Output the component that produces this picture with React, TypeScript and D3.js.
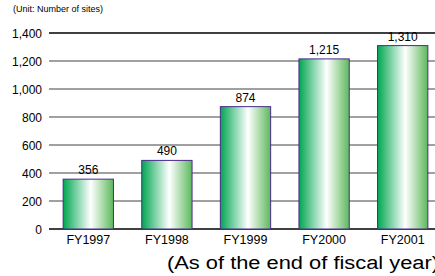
import React from "react";
import * as d3 from "d3";

const years = ["FY1997", "FY1998", "FY1999", "FY2000", "FY2001"];
const sites = [356, 490, 874, 1215, 1310];
const yTicks = [0, 200, 400, 600, 800, 1000, 1200, 1400];

const W = 435;
const H = 276;

export default function App() {
  const x = d3.scaleBand().domain(years).range([49, 442]).paddingInner(0.36).paddingOuter(0.18);
  const y = d3.scaleLinear().domain([0, 1400]).range([229, 33]);
  const fmt = d3.format(",");
  const font = "Arial, 'Liberation Sans', sans-serif";

  return (
    <svg width={W} height={H} style={{ position: "absolute", left: 0, top: 0 }}>
      <defs>
        <linearGradient id="barGrad" x1="0" x2="1" y1="0" y2="0">
          <stop offset="0" stopColor="#00a651" />
          <stop offset="0.55" stopColor="#ffffff" />
          <stop offset="1" stopColor="#5cb85c" />
        </linearGradient>
      </defs>
      <rect width={W} height={H} fill="#fff" />
      <text x={13} y={12} fontSize={9} fontFamily={font} fill="#000">
        (Unit: Number of sites)
      </text>
      {yTicks.map((t) => (
        <g key={t}>
          <line
            x1={49}
            x2={W}
            y1={y(t)}
            y2={y(t)}
            stroke={t === 0 || t === 1400 ? "#000" : "#808080"}
            strokeWidth={1.5}
          />
          <text x={42} y={y(t) + 4.5} fontSize={12} fontFamily={font} textAnchor="end" fill="#000">
            {fmt(t)}
          </text>
        </g>
      ))}
      {years.map((yr, i) => (
        <g key={yr}>
          <rect
            x={x(yr)!}
            y={y(sites[i])}
            width={x.bandwidth()}
            height={y(0) - y(sites[i])}
            fill="url(#barGrad)"
            stroke="#4b2a8c"
            strokeWidth={1}
          />
          <text
            x={x(yr)! + x.bandwidth() / 2}
            y={y(sites[i]) - 5}
            fontSize={12}
            fontFamily={font}
            textAnchor="middle"
            fill="#000"
          >
            {fmt(sites[i])}
          </text>
          <text
            x={x(yr)! + x.bandwidth() / 2}
            y={244}
            fontSize={12.5}
            fontFamily={font}
            textAnchor="middle"
            fill="#000"
          >
            {yr}
          </text>
        </g>
      ))}
      <text
        x={167}
        y={269}
        fontSize={18}
        fontFamily={font}
        fill="#000"
        textLength={272}
        lengthAdjust="spacingAndGlyphs"
      >
        (As of the end of fiscal year)
      </text>
    </svg>
  );
}
